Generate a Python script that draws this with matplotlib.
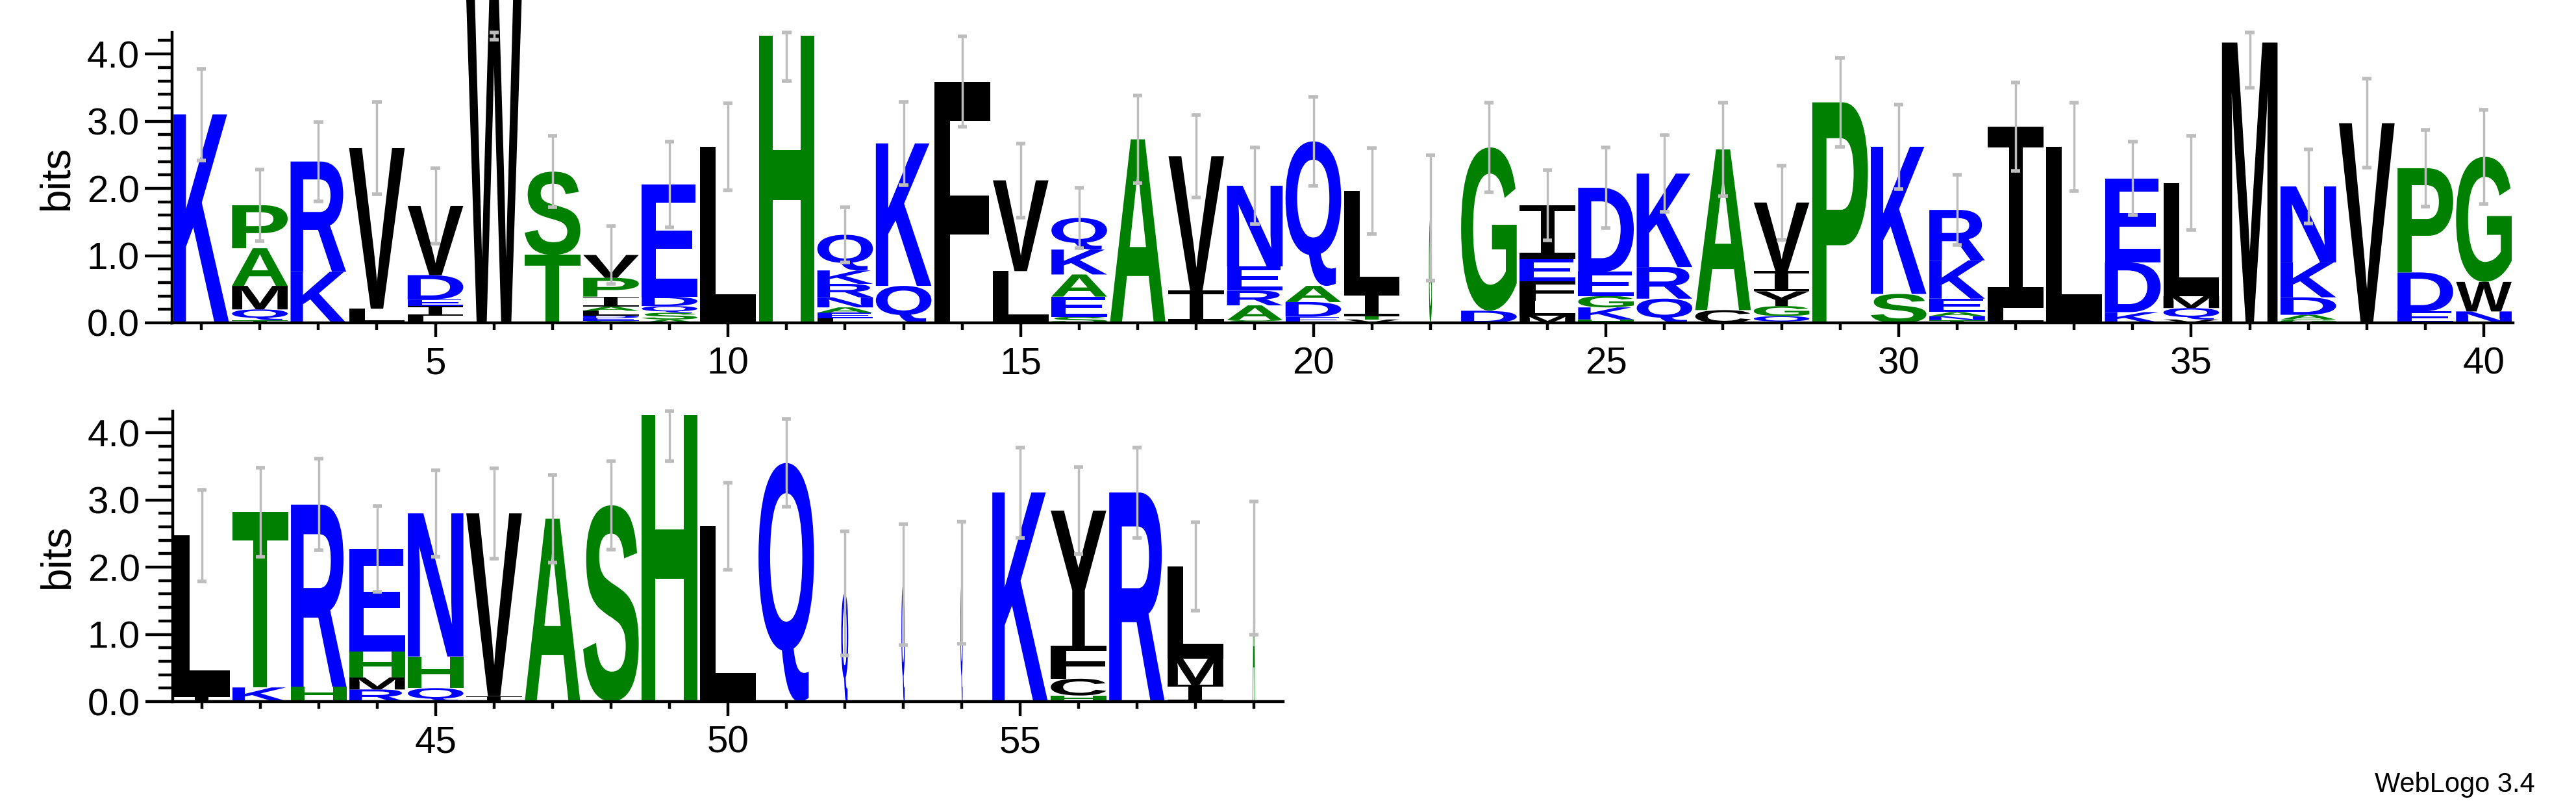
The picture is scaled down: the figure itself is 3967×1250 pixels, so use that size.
import matplotlib
matplotlib.use("Agg")
import matplotlib.pyplot as plt
from matplotlib.textpath import TextPath
from matplotlib.patches import PathPatch
from matplotlib.font_manager import FontProperties
from matplotlib.transforms import Affine2D
from matplotlib.ticker import MultipleLocator

plt.rcParams['font.family'] = ['Liberation Sans', 'DejaVu Sans']

# Each column: letters bottom -> top with heights (bits)
columns = [
    [("K", 3.10)],
    [("T", 0.04), ("Q", 0.16), ("M", 0.35), ("A", 0.56), ("P", 0.64)],
    [("K", 0.76), ("R", 1.64)],
    [("L", 0.21), ("V", 2.39)],
    [("L", 0.11), ("I", 0.14), ("E", 0.10), ("D", 0.36), ("V", 1.03)],
    [("W", 4.85)],
    [("T", 1.01), ("S", 1.24)],
    [("S", 0.03), ("E", 0.04), ("D", 0.04), ("L", 0.07), ("A", 0.06), ("I", 0.15), ("P", 0.28), ("V", 0.34)],
    [("A", 0.05), ("S", 0.10), ("Q", 0.10), ("D", 0.14), ("E", 1.67)],
    [("L", 2.62)],
    [("H", 4.27)],
    [("L", 0.07), ("E", 0.08), ("A", 0.08), ("N", 0.15), ("R", 0.20), ("K", 0.20), ("Q", 0.53)],
    [("Q", 0.55), ("K", 2.12)],
    [("F", 3.59)],
    [("L", 0.77), ("V", 1.35)],
    [("S", 0.09), ("E", 0.30), ("A", 0.33), ("K", 0.37), ("Q", 0.47)],
    [("A", 2.73)],
    [("I", 0.48), ("V", 2.00)],
    [("S", 0.04), ("A", 0.22), ("R", 0.22), ("E", 0.36), ("N", 1.20)],
    [("E", 0.09), ("D", 0.22), ("A", 0.24), ("Q", 2.15)],
    [("V", 0.05), ("T", 0.05), ("I", 0.34), ("L", 1.52)],
    [("G", 1.56)],
    [("D", 0.18), ("G", 2.43)],
    [("M", 0.11), ("L", 0.22), ("F", 0.29), ("E", 0.33), ("I", 0.80)],
    [("H", 0.05), ("K", 0.18), ("G", 0.17), ("E", 0.36), ("D", 1.25)],
    [("Q", 0.36), ("R", 0.47), ("K", 1.39)],
    [("C", 0.19), ("A", 2.39)],
    [("Q", 0.10), ("G", 0.15), ("Y", 0.22), ("I", 0.30), ("V", 1.02)],
    [("P", 3.28)],
    [("S", 0.43), ("K", 2.19)],
    [("T", 0.04), ("N", 0.06), ("A", 0.06), ("E", 0.20), ("K", 0.57), ("R", 0.75)],
    [("L", 0.22), ("I", 2.70)],
    [("L", 2.62)],
    [("K", 0.16), ("D", 0.74), ("E", 1.25)],
    [("V", 0.05), ("Q", 0.17), ("M", 0.18), ("L", 1.68)],
    [("M", 4.17)],
    [("G", 0.05), ("A", 0.07), ("D", 0.26), ("K", 0.52), ("N", 1.13)],
    [("V", 2.97)],
    [("E", 0.17), ("D", 0.58), ("P", 1.55)],
    [("N", 0.17), ("W", 0.44), ("G", 1.86)],
    [("I", 0.08), ("L", 2.39)],
    [("K", 0.21), ("T", 2.61)],
    [("H", 0.22), ("R", 2.71)],
    [("R", 0.18), ("M", 0.18), ("H", 0.38), ("E", 1.53)],
    [("Q", 0.20), ("H", 0.47), ("N", 2.13)],
    [("I", 0.08), ("V", 2.72)],
    [("A", 2.72)],
    [("S", 2.92)],
    [("H", 4.26)],
    [("L", 2.61)],
    [("Q", 3.55)],
    [("Q", 1.61)],
    [("Q", 1.74)],
    [("Q", 1.77)],
    [("K", 3.11)],
    [("H", 0.09), ("C", 0.25), ("F", 0.49), ("Y", 2.01)],
    [("R", 3.11)],
    [("I", 0.25), ("M", 0.39), ("L", 1.37)],
    [("A", 1.99)],
]
errors = [0.68, 0.53, 0.59, 0.69, 0.56, 0.64, 0.53, 0.43, 0.64, 0.65,
          0.67, 0.41, 0.62, 0.67, 0.55, 0.45, 0.65, 0.61, 0.57, 0.66,
          0.64, 0.93, 0.67, 0.52, 0.60, 0.57, 0.70, 0.55, 0.66, 0.63,
          0.52, 0.66, 0.66, 0.55, 0.70, 0.67, 0.55, 0.66, 0.57, 0.70,
          0.68, 0.66, 0.68, 0.64, 0.64, 0.67, 0.65, 0.66, 0.68, 0.65,
          0.65, 0.92, 0.90, 0.91, 0.67, 0.65, 0.67, 0.66, 0.99]
widths = {22: 0.05, 52: 0.12, 53: 0.06, 54: 0.04, 59: 0.04}

colors = {}
for c in "GSTAPH":
    colors[c] = "#008000"
for c in "KRDENQ":
    colors[c] = "#0000ff"

YMAX = 4.32
fp = FontProperties(family="Liberation Sans", weight="bold")
fp_serif_i = FontProperties(family="DejaVu Sans Mono", weight="normal")
glyphs = {}

def glyph(ch):
    if ch not in glyphs:
        prop = fp_serif_i if ch == "I" else fp
        glyphs[ch] = TextPath((0, 0), ch, size=100, prop=prop)
    return glyphs[ch]

def draw_letter(ax, ch, x, y, w, h):
    p = glyph(ch)
    ext = p.get_extents()
    tr = (Affine2D().translate(-ext.x0, -ext.y0)
          .scale(w / ext.width, h / ext.height)
          .translate(x - w / 2, y))
    patch = PathPatch(tr.transform_path(p), facecolor=colors.get(ch, "black"),
                      edgecolor="none", clip_on=False)
    ax.add_patch(patch)

fig = plt.figure(figsize=(39.67, 12.5), dpi=100)
rows = [(1, 40, [0.0668, 0.6024, 0.9088, 0.3576]),
        (41, 59, [0.0670, 0.1360, 0.4311, 0.3576])]

for start, end, rect in rows:
    ax = fig.add_axes(rect)
    for pos in range(start, end + 1):
        col = columns[pos - 1]
        w = widths.get(pos, 0.95)
        y = 0.0
        for ch, h in col:
            draw_letter(ax, ch, pos, y, w, h)
            y += h
        e = errors[pos - 1]
        lo = y - e
        hi = min(y + e, YMAX)
        ax.plot([pos, pos], [lo, hi], color="#bdbdbd", lw=2.5, zorder=5, clip_on=False)
        for yy in (lo, hi):
            ax.plot([pos - 0.08, pos + 0.08], [yy, yy], color="#bdbdbd", lw=4,
                    zorder=5, clip_on=False, solid_capstyle="butt")
    ax.set_xlim(start - 0.5, end + 0.5)
    ax.set_ylim(0, YMAX)
    for s in ("top", "right"):
        ax.spines[s].set_visible(False)
    for s in ("left", "bottom"):
        ax.spines[s].set_linewidth(3.2)
    ax.set_yticks([0, 1, 2, 3, 4])
    ax.set_yticklabels(["0.0", "1.0", "2.0", "3.0", "4.0"])
    ax.yaxis.set_minor_locator(MultipleLocator(0.2))
    major_x = [p for p in range(start, end + 1) if p % 5 == 0]
    minor_x = [p for p in range(start, end + 1) if p % 5 != 0]
    ax.set_xticks(major_x)
    ax.set_xticks(minor_x, minor=True)
    ax.tick_params(axis="y", which="major", length=30, width=3.2, labelsize=42, pad=6)
    ax.tick_params(axis="y", which="minor", length=16, width=3.2)
    ax.tick_params(axis="x", which="major", length=16, width=3.2, labelsize=42, pad=10)
    ax.tick_params(axis="x", which="minor", length=8, width=3.2)
    ax.set_ylabel("bits", fontsize=46, labelpad=12)

fig.text(0.984, 0.0176, "WebLogo 3.4", ha="right", va="bottom", fontsize=30)
fig.savefig("out.png", dpi=100)
